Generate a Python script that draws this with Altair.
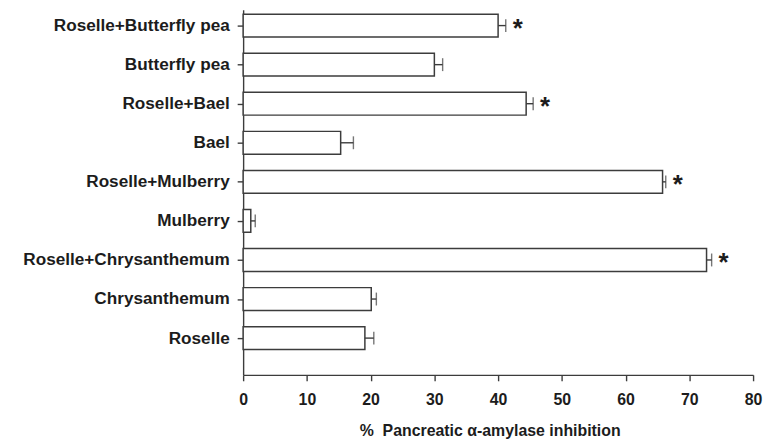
import json
import altair as alt
import pandas as pd

# categories listed top to bottom
categories = [
    "Roselle+Butterfly pea",
    "Butterfly pea",
    "Roselle+Bael",
    "Bael",
    "Roselle+Mulberry",
    "Mulberry",
    "Roselle+Chrysanthemum",
    "Chrysanthemum",
    "Roselle",
]
tick_labels = [
    "Roselle+Butterfly pea\u00a0",
    "Butterfly pea",
    "Roselle+Bael",
    "Bael",
    "Roselle+Mulberry",
    "Mulberry",
    "Roselle+Chrysanthemum\u00a0\u00a0",
    "Chrysanthemum",
    "Roselle\u00a0",
]
inhibition = [40.0, 30.0, 44.4, 15.3, 65.8, 1.2, 72.7, 20.1, 19.1]
error = [1.2, 1.3, 1.1, 2.0, 0.5, 0.7, 0.8, 0.8, 1.4]
significance = ["*", "", "*", "", "*", "", "*", "", ""]

n = len(categories)
df = pd.DataFrame({
    "cat": categories,
    "pos": [n - i for i in range(n)],
    "value": inhibition,
    "err": error,
    "sig": significance,
})
df["hi"] = df["value"] + df["err"]

labels_by_pos = [""] + list(reversed(tick_labels))
label_expr = json.dumps(labels_by_pos, ensure_ascii=False) + "[datum.value]"

LINE = "#3c3c3c"
TEXT = "#1c1c1c"
FONT = "Liberation Sans"

xscale = alt.Scale(domain=[0, 80], nice=False, zero=True, padding=0)
yscale = alt.Scale(domain=[0.06, 9.406], nice=False, zero=False, padding=0)

xaxis = alt.Axis(
    values=list(range(0, 81, 10)), grid=False, tickSize=6, tickColor=LINE,
    domainColor=LINE, domainWidth=1.4, tickWidth=1.4,
    labelFont=FONT, labelFontSize=16, labelFontWeight="bold", labelColor=TEXT,
    labelPadding=11, labelFlush=False,
    title="%\u00a0 Pancreatic \u03b1-amylase inhibition",
    titleFont=FONT, titleFontSize=16, titleFontWeight="bold", titleColor=TEXT,
    titleX=117, titleY=61, titleAlign="left", titleBaseline="alphabetic",
)
yaxis = alt.Axis(
    values=list(range(1, n + 1)), labelExpr=label_expr, grid=False,
    tickSize=6, tickColor=LINE, tickWidth=1.4, domainColor=LINE, domainWidth=1.4,
    labelFont=FONT, labelFontSize=17.3, labelFontWeight="bold", labelColor=TEXT,
    labelPadding=8, title=None, labelFlush=False, labelLimit=400,
)

base = alt.Chart(df)

bars = base.mark_bar(
    orient="horizontal", size=23, fill="white", stroke=LINE, strokeWidth=1.5
).encode(
    x=alt.X("value:Q", scale=xscale, axis=xaxis),
    y=alt.Y("pos:Q", scale=yscale, axis=yaxis),
)

err_line = base.mark_rule(color=LINE, strokeWidth=1.4).encode(
    x="value:Q", x2="hi:Q", y="pos:Q"
)
err_cap = base.mark_tick(orient="vertical", size=13, thickness=1.4, color=LINE).encode(
    x="hi:Q", y="pos:Q"
)
stars = base.mark_text(
    dx=12, dy=3, fontSize=26, fontWeight="bold", font=FONT, color=TEXT,
    align="center", baseline="middle"
).encode(x="hi:Q", y="pos:Q", text="sig:N")

chart = alt.layer(bars, err_line, err_cap, stars).properties(
    width=514, height=368,
    background="white",
    autosize=alt.AutoSizeParams(type="none"),
    padding={"left": 237, "top": 0, "right": 10, "bottom": 70},
).configure_view(stroke=None, strokeWidth=0)

chart.save("out.html", embed_options={"renderer": "svg", "actions": False})
